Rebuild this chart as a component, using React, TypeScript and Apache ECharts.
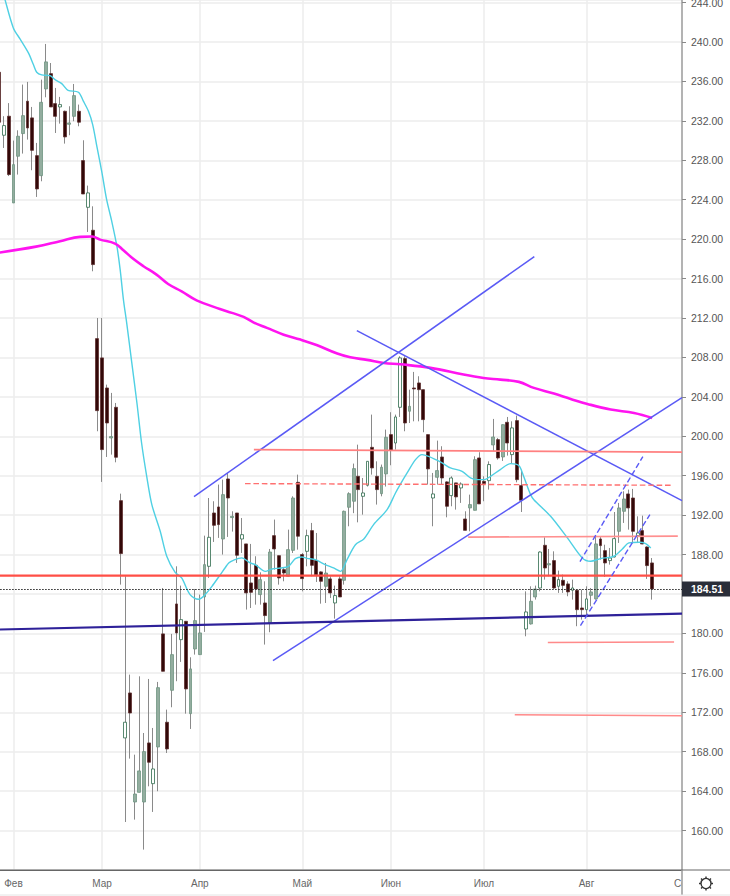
import React, { useEffect, useRef } from "react";
import * as echarts from "echarts";

const opens = [236.93,230.54,232.47,223.67,228.41,230.71,233.99,232.3,228.47,226.44,235.24,236.79,233.75,233.41,232.97,231.65,232.46,232.97,227.97,223.23,220.9,209.91,207.95,204.9,199.83,202.94,193.47,169.4,173.96,162.9,163.88,162.9,168.89,164.76,168.48,179.95,170.99,174.23,182.99,179.37,181.23,171.86,178.42,177.85,183.7,186.81,192.22,192.83,189.58,195.67,191.75,192.22,189.58,189.08,185.12,186.91,183.94,183.09,181.06,189.92,187.89,186.47,185.8,188.43,195.33,188.0,188.33,190.43,187.39,186.24,184.78,185.53,183.09,185.53,185.39,192.8,193.41,195.94,193.91,195.03,198.88,195.94,194.18,196.18,200.17,199.32,202.94,207.88,202.54,204.9,205.41,204.73,200.17,193.74,195.84,197.9,195.37,193.98,195.27,194.76,191.61,192.73,192.49,197.8,195.43,195.5,199.12,199.66,197.9,201.42,198.14,201.59,195.0,180.45,180.96,183.7,184.61,188.94,186.95,187.39,184.78,185.39,185.02,184.38,184.38,182.58,182.41,183.87,183.5,189.58,188.4,187.39,187.76,190.36,192.39,194.15,193.74,189.92,190.43,188.77,187.15];
const closes = [231.86,231.52,226.55,227.56,230.44,232.53,231.28,229.01,225.09,233.88,237.98,233.41,232.46,233.65,230.37,231.79,234.56,231.86,224.58,224.69,217.42,202.6,198.65,201.35,199.97,197.87,188.1,170.99,171.93,163.71,166.05,168.01,166.93,166.25,174.5,176.16,168.28,177.85,180.05,181.4,174.37,176.4,181.3,180.05,186.98,189.75,190.97,191.04,194.08,193.74,191.88,187.93,190.02,184.11,184.17,184.51,185.46,181.81,188.26,188.57,185.63,186.13,188.5,193.74,189.86,185.56,189.92,186.91,185.97,185.29,186.13,184.11,183.84,183.7,192.39,194.18,196.72,194.59,194.25,197.46,196.79,194.59,196.86,199.9,198.58,201.96,207.95,201.35,203.04,204.8,204.73,201.69,196.69,194.15,196.52,195.77,192.9,195.77,193.85,195.16,190.46,193.07,197.63,193.14,195.2,197.13,199.93,197.8,201.18,199.32,200.85,195.6,193.51,182.18,183.26,184.51,188.26,186.64,187.08,184.61,185.46,184.88,184.21,184.61,182.41,182.41,183.5,184.21,189.08,188.91,187.15,187.65,189.62,192.73,193.64,192.73,190.36,190.19,189.08,186.88,184.51];
const lows = [231.5,229.25,226.4,223.67,226.55,228.68,230.1,226.99,224.28,225.87,234.39,233.41,230.77,231.72,229.69,230.54,231.96,231.45,224.58,220.73,216.74,200.51,195.37,197.9,198.14,197.36,184.95,160.87,167.3,161.11,163.88,158.07,164.49,161.89,163.99,176.16,167.87,172.51,175.15,177.11,171.86,170.31,177.85,177.85,180.15,185.63,189.28,189.69,188.0,189.79,190.33,187.15,188.16,182.42,182.58,182.92,182.92,178.87,180.12,186.47,184.95,185.29,185.8,188.16,188.5,184.27,186.81,185.8,185.22,183.02,183.09,183.6,181.5,183.7,184.95,190.87,192.2,191.27,192.05,194.9,196.11,193.07,193.91,194.9,197.06,198.65,201.96,200.51,201.35,201.52,201.52,200.41,195.1,190.87,195.1,195.1,191.78,192.9,192.56,193.24,190.46,190.36,192.49,193.14,193.41,194.59,198.48,197.63,197.5,198.04,197.23,195.33,192.32,179.71,180.9,183.43,184.27,185.46,185.8,184.51,184.11,184.11,183.77,183.43,180.73,181.4,181.74,182.75,183.43,187.49,185.73,186.98,187.7,189.18,191.21,190.53,189.18,189.18,189.05,185.53,183.43];
const highs = [237.0,232.47,233.8,230.0,231.04,235.68,235.95,233.41,229.76,236.18,239.8,237.87,235.34,234.43,233.04,233.48,235.74,233.65,230.03,225.43,223.33,212.0,212.0,205.24,204.4,203.38,194.18,185.8,175.82,167.7,175.65,169.9,175.38,170.41,175.08,184.61,172.27,179.95,186.81,184.85,181.23,177.58,184.51,183.94,189.92,193.74,193.41,195.1,195.6,196.28,192.39,192.22,191.71,189.08,189.08,187.83,186.2,185.29,188.57,191.55,187.89,186.74,190.53,193.91,196.11,188.16,190.53,191.21,190.19,186.3,187.15,185.8,184.85,185.8,192.46,194.32,197.23,199.15,195.77,197.46,202.2,197.46,197.13,200.68,202.44,202.2,208.12,208.12,204.73,206.53,206.09,204.73,200.17,196.28,199.56,198.99,195.43,195.94,195.27,195.33,192.39,194.08,197.97,198.38,195.94,197.46,201.76,199.83,201.18,201.96,201.52,202.1,196.62,184.27,184.78,184.85,188.33,189.75,188.57,188.33,186.37,185.97,185.29,185.46,184.44,184.44,184.78,184.61,189.86,189.86,189.0,188.67,192.32,193.24,194.42,194.59,194.66,191.88,191.95,188.84,187.65];
const hollowUp = [1,13,19,27,33,39,45,52,66,72,78,79,85,86,93,97,99,105,110,113,116,120,123,126,131,132,137];

const monthLabels = [[3,"Фев"],[22,"Мар"],[43,"Апр"],[65,"Май"],[84,"Июн"],[104,"Июл"],[126,"Авг"]] as [number,string][];
const lastPrice = 184.51;
const priceTicks = { min: 156, max: 244.26, step: 4 };

const emaX = [-0.4,1.18,2.97,4.4,6.2,7.27,7.99,9.06,10.85,11.93,13.36,14.72,16.94,18,19.1,20,20.9,22,23,24.1,25.2,25.9,26.6,27.3,28.4,29.5,30.5,31.6,32.7,34.5,35.9,37.7,39.1,40.9,42.7,43.8,45.6,47.4,48.4,49.2,50.2,52,53.8,54.9,57.05,58.5,60.3,62.05,63.5,64.9,66,67.8,69.9,71.7,73.2,74.6,76.4,78.2,80.3,83.2,85,86,87.5,89.3,90.7,92.1,93.9,95,96.8,99.3,101.1,102.5,104,105.4,107.5,109.7,111.5,112.5,114,114.7,118.3,121.9,125.1,126.9,129,131.9,133.7,135.1,137.3,138.7,139.8];
const emaY = [247,244.3,241.43,240.31,238.89,237.71,236.93,236.66,236.59,236.18,235.78,235.1,234.9,234,232.97,231.62,229.42,226.72,224,221.8,219.28,216.9,213.87,211.5,207.44,203.38,199.32,195.94,193.07,190.36,187.83,186.2,185.63,183.94,183.46,183.77,184.78,185.97,186.64,187.15,187.42,187.66,187.15,186.98,186.3,186.54,186.64,186.81,187.59,187.76,187.62,187.49,186.98,186.64,186.3,187.49,189,189.58,191.04,192.56,194.25,195.1,196.28,197.63,198.14,197.97,197.57,197.3,196.79,196.45,195.77,195.6,195.6,195.94,196.62,197.23,197.02,195.94,194.08,193.57,191.88,189.69,187.66,187.32,187.59,187.83,188.57,189.18,189.25,189.11,188.67];
const smaX = [-0.5,7.84,13,17.3,19.9,21.6,24.8,26.6,28.7,30.9,33.7,36.2,39.1,42.3,47.3,49.9,52.4,54.5,57.4,61,64.6,68.2,72.5,75.3,78.9,82.5,86.05,92.5,99.6,103.9,107.5,111.5,114.7,119,122.6,126.2,131.2,136.2,140.1];
const smaY = [218.6,219.24,219.78,220.23,220.26,219.95,219.55,218.87,218,217.25,216.4,215.45,214.7,213.79,212.92,212.52,212.11,211.56,211,210.31,209.81,209.23,208.39,208.01,207.75,207.44,207.3,206.94,206.26,205.92,205.75,205.52,204.91,204.33,203.79,203.28,202.71,202.37,201.86];

const channelUpper = [[41.75,193.88],[114.8,218.23]];
const channelLower = [[58.7,177.24],[146.5,203.92]];
const fallingLine = [[76.7,210.72],[146.5,193.47]];
const supportLine = [[-0.5,180.39],[146.5,182.01]];
const levelMain = [[-0.5,185.87],[146.5,185.87]];
const levelHigh = [[54.6,198.65],[146.5,198.39]];
const levelDashed = [[52.7,195.2],[144.6,195.03]];
const levelMid = [[100.6,189.77],[145.6,189.87]];
const levelLow1 = [[117.7,179.07],[144.8,179.12]];
const levelLow2 = [[110.6,171.76],[146.5,171.66]];
const flagUpper = [[124.6,187.29],[138.1,197.94]];
const flagLower = [[124.7,180.79],[139.6,192.05]];

const categories = Array.from({ length: 147 }, (_, i) => String(i));
const monthIdx = monthLabels.map((m) => m[0]);

function overlay(name: string, data: number[][], color: string, width: number, type: string = "solid", smooth: number | boolean = false) {
  return {
    name, type: "line", xAxisIndex: 1, data, symbol: "none", silent: true, z: 5, smooth,
    lineStyle: { color, width, type },
  };
}

export default function App() {
  const ref = useRef<HTMLDivElement>(null);
  useEffect(() => {
    document.body.style.margin = "0";
    document.body.style.background = "#fff";
    const chart = echarts.init(ref.current!, undefined, { renderer: "svg" });
    const wick = opens.map((o, i) => [o, closes[i], lows[i], highs[i]]);
    const body = opens.map((o, i) => {
      const c = closes[i];
      const hollow = hollowUp.includes(i);
      return {
        value: [o, c, Math.min(o, c), Math.max(o, c)],
        itemStyle: hollow ? { color: "#ffffff", borderColor: "#2f6b4c" } : undefined,
      };
    });
    const gear: any[] = [];
    for (let k = 0; k < 8; k++) {
      const a = (k * Math.PI) / 4;
      gear.push({
        type: "line", z: 101,
        shape: { x1: 706 + 5 * Math.cos(a), y1: 883.5 + 5 * Math.sin(a), x2: 706 + 7 * Math.cos(a), y2: 883.5 + 7 * Math.sin(a) },
        style: { stroke: "#333", lineWidth: 1.4 },
      });
    }
    chart.setOption({
      animation: false,
      backgroundColor: "#ffffff",
      grid: { left: -2.83, top: 0, width: 684.83, height: 870, containLabel: false, outerBoundsMode: "none" },
      xAxis: [
        {
          type: "category", data: categories, boundaryGap: true,
          axisLine: { show: true, onZero: false, lineStyle: { color: "#666", width: 1 } },
          axisTick: { show: false },
          axisLabel: {
            interval: (i: number) => monthIdx.includes(i),
            formatter: (_: string, i: number) => {
              const m = monthLabels.find((x) => x[0] === i);
              return m ? m[1] : "";
            },
            color: "#666", fontSize: 10, fontFamily: "Liberation Sans", margin: 8,
          },
          splitLine: {
            show: true, alignWithLabel: true,
            interval: (i: number) => monthIdx.includes(i),
            lineStyle: { color: "#ececec", width: 1.5 },
          },
        },
        { type: "value", min: -0.5, max: 146.5, show: false, splitLine: { show: false } },
      ],
      yAxis: {
        type: "value", position: "right", min: priceTicks.min, max: priceTicks.max, interval: priceTicks.step,
        axisLine: { show: true, onZero: false, lineStyle: { color: "#9a9a9a", width: 1.5 } },
        axisTick: { show: true, length: 4, lineStyle: { color: "#888" } },
        axisLabel: {
          color: "#555", fontSize: 10.5, fontFamily: "Liberation Sans", margin: 9,
          showMinLabel: false, showMaxLabel: false,
          formatter: (v: number) => (v === 184 ? "" : v.toFixed(2)),
        },
        splitLine: { show: true, lineStyle: { color: "#ececec", width: 1.5 } },
      },
      series: [
        {
          name: "wick", type: "candlestick", data: wick, barWidth: 1, z: 2, silent: true,
          itemStyle: { color: "#8a8a8a", color0: "#8a8a8a", borderColor: "#8a8a8a", borderColor0: "#8a8a8a", borderWidth: 1 },
        },
        {
          name: "body", type: "candlestick", data: body, barWidth: 3.4, z: 3, silent: true,
          itemStyle: { color: "#93ad9f", color0: "#330808", borderColor: "#6f9482", borderColor0: "#5e3030", borderWidth: 0.8 },
          markLine: {
            silent: true, symbol: "none", animation: false, z: 6,
            lineStyle: { color: "#222", type: [1.5, 1.5], width: 1 },
            data: [{
              yAxis: lastPrice,
              label: {
                position: "end", formatter: lastPrice.toFixed(2), distance: 0,
                backgroundColor: "#2a2e39", color: "#fff", fontWeight: "bold", fontSize: 10.5,
                fontFamily: "Liberation Sans", padding: [2, 9, 2, 9],
              },
            }],
          },
        },
        overlay("ema", emaX.map((x, i) => [x, emaY[i]]), "#4fd0e3", 1.4, "solid", 0.3),
        overlay("sma", smaX.map((x, i) => [x, smaY[i]]), "#ff14f0", 2.6, "solid", 0.4),
        overlay("channelUpper", channelUpper, "#5a5af5", 1.5),
        overlay("channelLower", channelLower, "#5a5af5", 1.5),
        overlay("fallingLine", fallingLine, "#5a5af5", 1.5),
        overlay("supportLine", supportLine, "#2e2199", 2.2),
        overlay("levelMain", levelMain, "#ff4f46", 2.2),
        overlay("levelHigh", levelHigh, "#ff8080", 1.6),
        overlay("levelDashed", levelDashed, "#ff7070", 1.4, "dashed"),
        overlay("levelMid", levelMid, "#ff9090", 1.6),
        overlay("levelLow1", levelLow1, "#ff8a8a", 1.5),
        overlay("levelLow2", levelLow2, "#ff8a8a", 1.5),
        overlay("flagUpper", flagUpper, "#5a5af5", 1.4, "dashed"),
        overlay("flagLower", flagLower, "#5a5af5", 1.4, "dashed"),
      ],
      graphic: [
        { type: "text", z: 99, x: 674, y: 878, style: { text: "Сен", fill: "#666", fontSize: 10, fontFamily: "Liberation Sans" } },
        { type: "rect", z: 100, shape: { x: 682, y: 871, width: 48, height: 25 }, style: { fill: "#fff" } },
        { type: "line", z: 101, shape: { x1: 0, y1: 870, x2: 730, y2: 870 }, style: { stroke: "#666", lineWidth: 1 } },
        { type: "line", z: 101, shape: { x1: 682, y1: 870, x2: 682, y2: 895 }, style: { stroke: "#9a9a9a", lineWidth: 1.5 } },
        { type: "line", z: 101, shape: { x1: 0, y1: 895, x2: 730, y2: 895 }, style: { stroke: "#e4e4e4", lineWidth: 1 } },
        { type: "circle", z: 101, shape: { cx: 706, cy: 883.5, r: 5 }, style: { fill: "#fff", stroke: "#333", lineWidth: 1.3 } },
        ...gear,
      ],
    });
    return () => chart.dispose();
  }, []);
  return <div ref={ref} style={{ width: 730, height: 896 }} />;
}
